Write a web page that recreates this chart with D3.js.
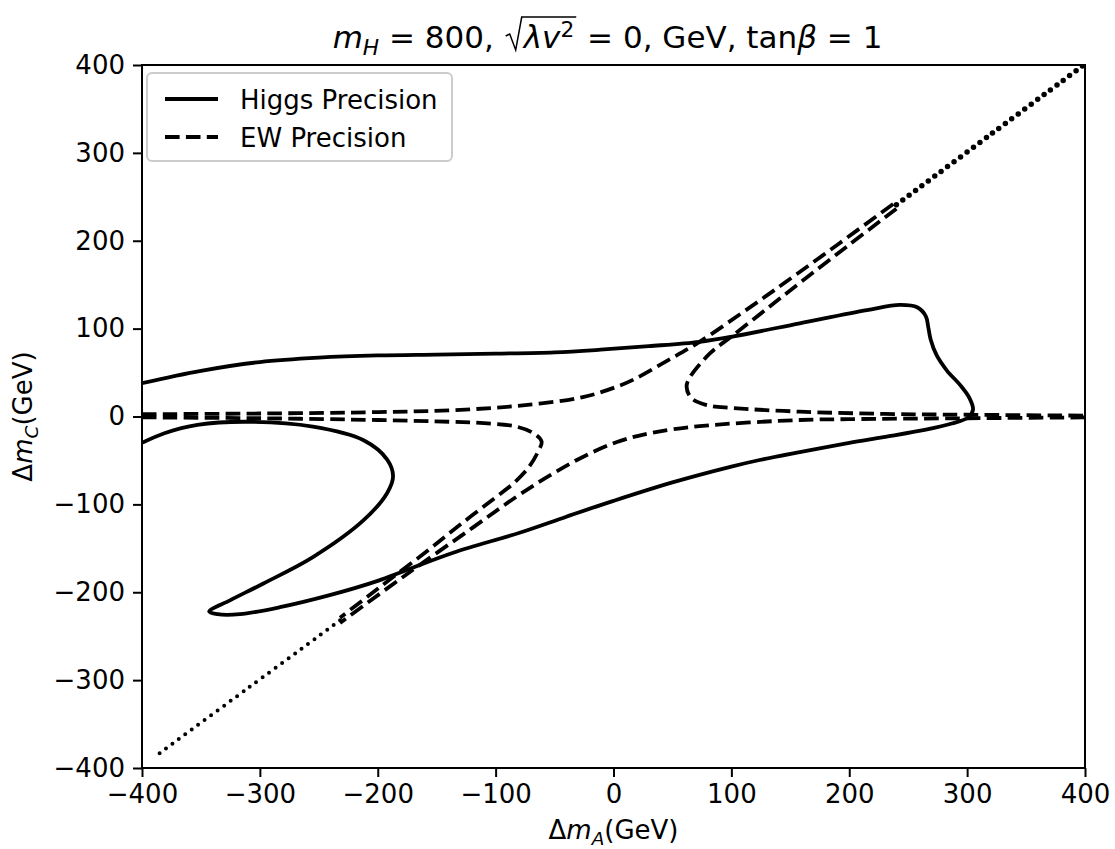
<!DOCTYPE html>
<html>
<head>
<meta charset="utf-8">
<script src="https://d3js.org/d3.v7.min.js"></script>
<style>
  body { margin: 0; background: #fff; }
  text { font-family: "DejaVu Sans", sans-serif; fill: #000; }
</style>
</head>
<body>
<div id="svg"></div>
<script>
// tick values on both axes
var xTicks = [-400, -300, -200, -100, 0, 100, 200, 300, 400];
var yTicks = [-400, -300, -200, -100, 0, 100, 200, 300, 400];

var legendLabels = ["Higgs Precision", "EW Precision"];

// Higgs precision contour, [dmA, dmC] in GeV (one continuous piece)
var higgs = [[-400,38],[-350,52],[-300,62],[-250,67],[-200,69.5],[-150,70.5],[-100,71.5],[-50,73],
  [-11,76],[30,80],[73,85],[101,91],[158,106],[215,121],[243,127],[258,124],[265,114],[267,102],
  [269,88],[274,70],[283,52],[294,36],[302,21],[305,8],[301,-1],[287,-8],[265,-15],[229,-23.5],
  [200,-30],[158,-40.5],[124,-49.5],[100,-57],[50,-75],[0,-96],[-40,-114],[-79,-132],[-136,-155],
  [-178,-176],[-200,-187],[-240,-203],[-283,-217],[-317,-225],[-336,-225],[-343,-222],[-325,-209],
  [-297,-190],[-255,-160],[-212,-118],[-192,-87],[-187,-68],[-192,-49],[-212,-27],[-255,-11.5],
  [-311,-6],[-353,-9.5],[-381,-19],[-400,-30]];

// EW precision contour, four branches plus the merged diagonal tails
var ewBranch1 = [[-400,2.6],[-300,3.4],[-200,5],[-139,7],[-82,12],[-26,22],[3,34],[17,42],[45,63],
  [73,85],[116,124.5],[144,151],[190,195.5],[240,244.5]];
var ewBranch2 = [[240,236.5],[200,195.5],[158,152],[130,122.5],[100,91],[82,72],[65,45],[62,34],
  [66,21],[79,13],[101,9.7],[158,5.5],[230,3],[300,2],[400,1]];
var ewBranch3 = [[-400,-1],[-300,-2],[-200,-4],[-139,-6],[-110,-7.5],[-82,-11.6],[-68,-19],
  [-61,-28.6],[-64,-40],[-72,-58],[-84,-75],[-100,-92],[-130,-123],[-160,-155],[-200,-196],
  [-232,-229]];
var ewBranch4 = [[400,-1],[300,-2],[200,-3],[158,-4],[73,-11],[31,-19],[3,-29],[-26,-46],[-54,-67],
  [-82,-91],[-120,-127],[-178,-182],[-232,-235]];
var ewTailUp = [[240,241],[320,321],[400,401]];
var ewTailDown = [[-232,-232],[-310,-309],[-390,-388]];

// dimensions
var edge = { top: 65, right: 30, bottom: 81, left: 142 },
    W = 1115, H = 849,
    width = W - edge.left - edge.right,
    height = H - edge.top - edge.bottom;

var svg = d3.select("#svg").append("svg")
    .attr("width", W).attr("height", H);

var x = d3.scaleLinear().domain([-400, 400]).range([edge.left, edge.left + width]);
var y = d3.scaleLinear().domain([-400, 400]).range([edge.top + height, edge.top]);

svg.append("clipPath").attr("id", "clip")
  .append("rect")
    .attr("x", edge.left).attr("y", edge.top)
    .attr("width", width).attr("height", height);

var line = d3.line()
    .x(function(d) { return x(d[0]); })
    .y(function(d) { return y(d[1]); })
    .curve(d3.curveCatmullRom.alpha(0.5));

var plot = svg.append("g").attr("clip-path", "url(#clip)");

// EW precision, dashed
[ewBranch1, ewBranch2, ewBranch3, ewBranch4].forEach(function(b) {
  plot.append("path")
    .attr("d", line(b))
    .attr("fill", "none")
    .attr("stroke", "#000")
    .attr("stroke-width", 3.8)
    .attr("stroke-dasharray", "14.6,6.3");
});
// where the two branches merge the dashes look like dots
plot.append("path")
  .attr("d", line(ewTailUp))
  .attr("fill", "none").attr("stroke", "#000")
  .attr("stroke-width", 5.5).attr("stroke-linecap", "round")
  .attr("stroke-dasharray", "0,8");
plot.append("path")
  .attr("d", line(ewTailDown))
  .attr("fill", "none").attr("stroke", "#000")
  .attr("stroke-width", 4).attr("stroke-linecap", "round")
  .attr("stroke-dasharray", "0,8");

// Higgs precision, solid
plot.append("path")
  .attr("d", line(higgs))
  .attr("fill", "none")
  .attr("stroke", "#000")
  .attr("stroke-width", 3.8)
  .attr("stroke-linejoin", "round");

// axes
var xAxis = svg.append("g")
  .attr("transform", "translate(0," + (edge.top + height) + ")")
  .call(d3.axisBottom(x).tickValues(xTicks).tickSize(9).tickPadding(8));
var yAxis = svg.append("g")
  .attr("transform", "translate(" + edge.left + ",0)")
  .call(d3.axisLeft(y).tickValues(yTicks).tickSize(9).tickPadding(8));

[xAxis, yAxis].forEach(function(a) {
  a.select(".domain").remove();
  a.selectAll(".tick line").attr("stroke-width", 2);
  a.selectAll(".tick text")
    .attr("font-family", "DejaVu Sans")
    .attr("font-size", 26);
});

// frame
svg.append("rect")
  .attr("x", edge.left).attr("y", edge.top)
  .attr("width", width).attr("height", height)
  .attr("fill", "none").attr("stroke", "#000").attr("stroke-width", 2);

// axis labels
function mathLabel(g, sub) {
  var t = g.append("text").attr("font-size", 26).attr("text-anchor", "middle");
  t.append("tspan").text("\u0394");
  t.append("tspan").attr("font-style", "italic").text("m");
  t.append("tspan").attr("font-style", "italic").attr("font-size", 18.5).attr("dy", 6).text(sub);
  t.append("tspan").attr("dy", -6).text("(GeV)");
  return t;
}
mathLabel(svg.append("g").attr("transform", "translate(" + (edge.left + width / 2) + ",839)"), "A");
mathLabel(svg.append("g").attr("transform", "translate(32," + (edge.top + height / 2) + ") rotate(-90)"), "C");

// title
var fs = 31;
var pieces = [
  { t: "m", it: true },
  { t: "H", it: true, s: 0.7, dy: 7 },
  { t: " = 800, " },
  { root: "start" },
  { t: "\u03bb", it: true },
  { t: "v", it: true },
  { t: "2", s: 0.7, dy: -11 },
  { root: "end" },
  { t: " = 0, GeV, tan" },
  { t: "\u03b2", it: true },
  { t: " = 1" }
];
var tg = svg.append("g");
var cx = 0, rootX0 = 0, rootX1 = 0, baseY = 48;
pieces.forEach(function(p) {
  if (p.root === "start") { rootX0 = cx; cx += 20; return; }
  if (p.root === "end") { rootX1 = cx + 2; cx += 3; return; }
  var t = tg.append("text")
    .attr("x", cx).attr("y", baseY + (p.dy || 0))
    .attr("font-size", fs * (p.s || 1))
    .attr("font-style", p.it ? "italic" : "normal")
    .attr("xml:space", "preserve")
    .style("white-space", "pre")
    .text(p.t);
  cx += t.node().getComputedTextLength();
});
tg.append("path")
  .attr("d", "M" + (rootX0 + 2) + "," + (baseY - 12) +
             "L" + (rootX0 + 6) + "," + (baseY - 14) +
             "L" + (rootX0 + 12) + "," + (baseY + 2) +
             "L" + (rootX0 + 18) + "," + (baseY - 31) +
             "L" + rootX1 + "," + (baseY - 31))
  .attr("fill", "none").attr("stroke", "#000").attr("stroke-width", 1.5);
tg.attr("transform", "translate(" + (edge.left + width / 2 - 6 - cx / 2) + ",0)");

// legend
var lg = svg.append("g").attr("transform", "translate(147,73)");
lg.append("rect")
  .attr("width", 305).attr("height", 88).attr("rx", 5)
  .attr("fill", "#fff").attr("fill-opacity", 0.8)
  .attr("stroke", "#cccccc").attr("stroke-width", 2);
legendLabels.forEach(function(lab, i) {
  var yy = 26 + i * 38;
  lg.append("line")
    .attr("x1", 18).attr("x2", 71).attr("y1", yy).attr("y2", yy)
    .attr("stroke", "#000").attr("stroke-width", 3.8)
    .attr("stroke-dasharray", i === 1 ? "14.6,6.3" : null);
  lg.append("text")
    .attr("x", 93).attr("y", yy + 9.5)
    .attr("font-size", 26)
    .text(lab);
});
</script>
</body>
</html>
